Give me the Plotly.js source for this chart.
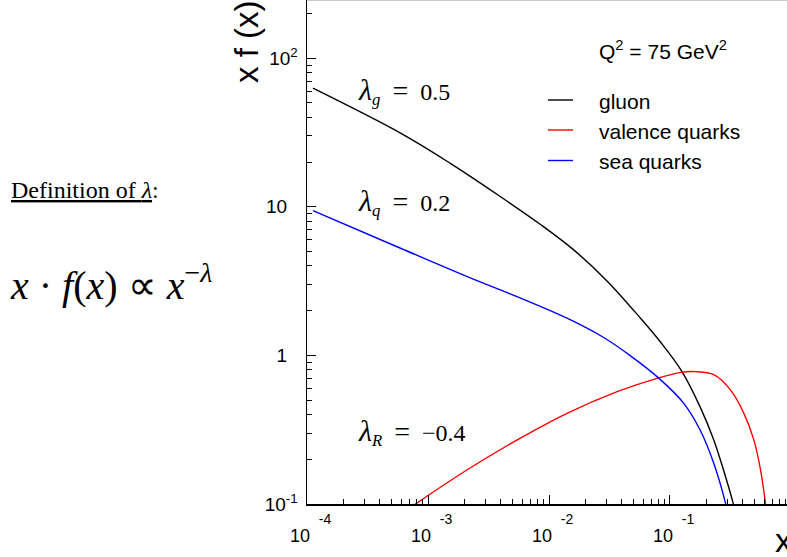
<!DOCTYPE html>
<html>
<head>
<meta charset="utf-8">
<script src="https://cdn.plot.ly/plotly-3.0.1.min.js"></script>
<style>
html,body{margin:0;padding:0;background:#fff;overflow:hidden}
#chart{width:787px;height:557px}
</style>
</head>
<body>
<div id="chart"></div>
<script>
// ---- data (x, x·f(x)) ----
const xGluon = [1.12e-4, 5.93e-4, 1.53e-3, 3.97e-3, 8.51e-3, 1.60e-2, 3.03e-2, 5.70e-2, 8.34e-2, 0.126, 0.177, 0.230, 0.279, 0.333, 0.345];
const yGluon = [62.8, 31.3, 19.6, 11.7, 7.6, 5.13, 3.16, 1.78, 1.23, 0.776, 0.452, 0.270, 0.166, 0.101, 0.09];

const xValence = [7.6e-4, 2.11e-3, 5.46e-3, 1.41e-2, 3.66e-2, 6.90e-2, 0.126, 0.163, 0.230, 0.316, 0.407, 0.493, 0.560, 0.615, 0.625];
const yValence = [0.098, 0.170, 0.270, 0.408, 0.570, 0.679, 0.771, 0.778, 0.742, 0.586, 0.409, 0.270, 0.170, 0.101, 0.09];

const xSea = [1.12e-4, 5.93e-4, 2.11e-3, 6.61e-3, 1.41e-2, 2.83e-2, 4.72e-2, 8.07e-2, 0.130, 0.177, 0.230, 0.288, 0.297];
const ySea = [9.42, 5.26, 3.39, 2.33, 1.78, 1.32, 0.993, 0.703, 0.476, 0.316, 0.188, 0.101, 0.09];

const seriesNames = ['gluon', 'valence quarks', 'sea quarks'];
const seriesColors = ['#000000', '#ff0000', '#0000ff'];

const xTickVals = [1e-4, 1e-3, 1e-2, 1e-1];
const xTickBase = ['10', '10', '10', '10'];
const xTickExp = ['-4', '-3', '-2', '-1'];
const yTickVals = [0.1, 1, 10, 100];
const yTickLabels = ['10<sup>-1</sup>', '1', '10', '10<sup>2</sup>'];

const lambdaSub = ['g', 'q', 'R'];
const lambdaVal = ['0.5', '0.2', '−0.4'];

// ---- layout helpers (pixel -> paper) ----
const L = 307, T = 0, W = 480, H = 504;
const X = px => (px - L) / W;
const Y = py => (H - py) / H;
const NB = '\u00a0';

const yTickText = yTickLabels.map(t => t.indexOf('sup') >= 0 ? t : t + NB + NB);

function minorVals(d0, d1, maxV) {
  const v = [];
  for (let d = d0; d <= d1; d++) for (let k = 2; k <= 9; k++) { const val = k * Math.pow(10, d); if (val < maxV) v.push(val); }
  return v;
}

const traces = [
  {x: xGluon, y: yGluon}, {x: xValence, y: yValence}, {x: xSea, y: ySea}
].map((s, i) => ({
  type: 'scatter', mode: 'lines', x: s.x, y: s.y, name: seriesNames[i],
  line: {color: seriesColors[i], width: 1.4, shape: 'spline', smoothing: 1},
  showlegend: false, hoverinfo: 'skip'
}));
// carrier for the exponent row of the x tick labels (draws nothing)
traces.push({type: 'scatter', mode: 'none', x: xSea, y: ySea, xaxis: 'x2', yaxis: 'y', showlegend: false, hoverinfo: 'skip'});

const serif = 'Liberation Serif, Times New Roman, serif';
const sans = 'Liberation Sans, Arial, Helvetica, sans-serif';

const annotations = [
  {text: 'Q<sup>2</sup> = 75 GeV<sup>2</sup>', x: X(597), y: Y(50), xanchor: 'left', yanchor: 'middle', font: {family: sans, size: 21, color: '#000'}},
  {text: 'x f (x)', x: X(246), y: Y(42), xanchor: 'center', yanchor: 'middle', textangle: -90, font: {family: sans, size: 33, color: '#000'}},
  {text: 'x', x: X(773), y: Y(540), xanchor: 'left', yanchor: 'middle', font: {family: sans, size: 34, color: '#000'}},
  {text: '<u>Definition of <i>λ</i></u>:', x: X(9), y: Y(190), xanchor: 'left', yanchor: 'middle', font: {family: serif, size: 24, color: '#000'}},
  {text: '<i>x</i> · <i>f</i>(<i>x</i>) ∝ <i>x</i><sup>−<i>λ</i></sup>', x: X(8), y: Y(282), xanchor: 'left', yanchor: 'middle', font: {family: serif, size: 40, color: '#000'}}
];
const lamY = [91, 202, 432];
lambdaSub.forEach((s, i) => annotations.push({
  text: '<span style="font-size:30px"><i>λ</i></span><sub><i>' + s + '</i></sub>' + NB + NB + '<span style="font-size:28px">=</span>' + NB + NB + lambdaVal[i],
  x: X(356), y: Y(lamY[i]), xanchor: 'left', yanchor: 'middle', font: {family: serif, size: 24, color: '#000'}
}));
const legY = [100, 130, 160.5];
seriesNames.forEach((n, i) => annotations.push({text: n, x: X(597), y: Y(legY[i] + 1.5), xanchor: 'left', yanchor: 'middle', font: {family: sans, size: 21, color: '#000'}}));
annotations.forEach(a => { a.xref = 'paper'; a.yref = 'paper'; a.showarrow = false; });

const shapes = [
  {type: 'line', xref: 'paper', yref: 'paper', x0: 0, x1: 1, y0: Y(0.5), y1: Y(0.5), line: {color: '#c8c8c8', width: 1}}
];
legY.forEach((y, i) => shapes.push({type: 'line', xref: 'paper', yref: 'paper', x0: X(548), x1: X(573), y0: Y(y), y1: Y(y), line: {color: seriesColors[i], width: 1.4}}));

const axisCommon = {
  type: 'log', showline: true, linecolor: '#000', linewidth: 1.5, mirror: false,
  showgrid: false, zeroline: false, ticks: 'inside', ticklen: 9, tickwidth: 1, tickcolor: '#000',
  tickmode: 'array', fixedrange: true
};
const xRange = [-4, -0.033];

const layout = {
  width: 787, height: 557,
  margin: {l: L, r: 0, t: T, b: 557 - H, pad: 0},
  paper_bgcolor: '#fff', plot_bgcolor: '#fff',
  showlegend: false,
  xaxis: Object.assign({}, axisCommon, {
    range: xRange, tickvals: xTickVals, ticktext: xTickBase,
    tickfont: {family: sans, size: 18, color: '#000'}, ticklabelstandoff: 15, ticklabelshift: -7,
    minor: {ticks: 'inside', ticklen: 5, tickwidth: 1, tickcolor: '#000', tickmode: 'array', tickvals: minorVals(-4, -1, 0.93), showgrid: false}
  }),
  xaxis2: {
    type: 'log', overlaying: 'x', anchor: 'y', side: 'bottom', range: xRange,
    showline: false, showgrid: false, zeroline: false, ticks: '',
    tickmode: 'array', tickvals: xTickVals, ticktext: xTickExp,
    tickfont: {family: sans, size: 14, color: '#000'}, ticklabelstandoff: 5, ticklabelshift: 18, fixedrange: true
  },
  yaxis: Object.assign({}, axisCommon, {
    range: [-1, -1 + H / 148.6], tickvals: yTickVals, ticktext: yTickText,
    tickfont: {family: sans, size: 19, color: '#000'}, ticklabelstandoff: 4,
    minor: {ticks: 'inside', ticklen: 5, tickwidth: 1, tickcolor: '#000', tickmode: 'array', tickvals: minorVals(-1, 2, 245), showgrid: false}
  }),
  annotations: annotations,
  shapes: shapes
};

Plotly.newPlot('chart', traces, layout, {staticPlot: true, displayModeBar: false});
</script>
</body>
</html>
